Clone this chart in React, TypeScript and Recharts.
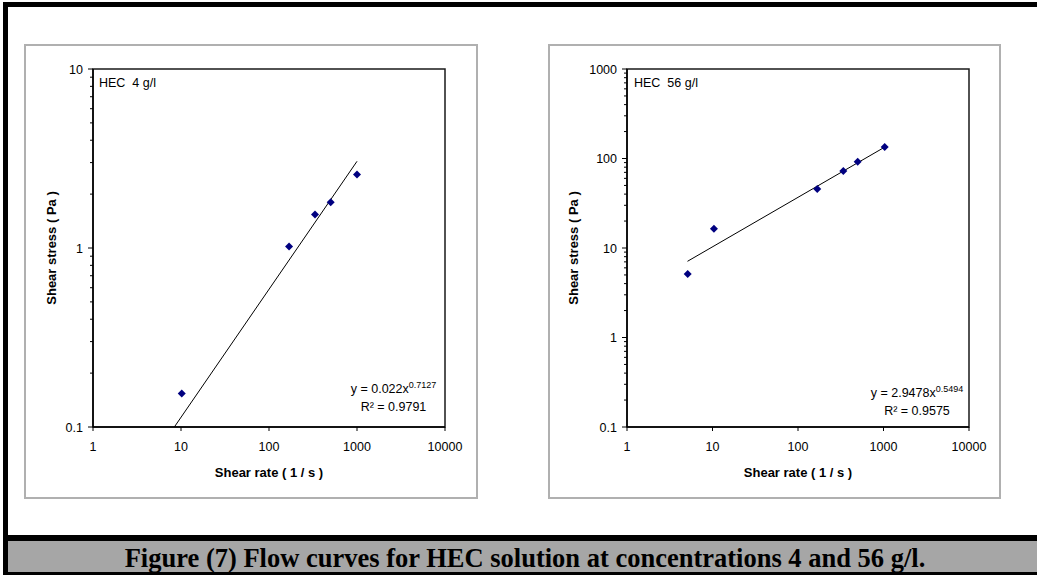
import React from 'react';
import { ScatterChart, Scatter, XAxis, YAxis, ReferenceArea } from 'recharts';

// ---- Data ----
const shearRate4 = [10.2, 169, 333, 502, 1000];
const shearStress4 = [0.154, 1.02, 1.54, 1.8, 2.57];
const trendRate4 = [8.4, 1000];
const trendStress4 = [0.1, 3.05];

const shearRate56 = [5.13, 10.4, 168, 339, 499, 1033];
const shearStress56 = [5.12, 16.4, 45.6, 72.5, 92, 134];
const trendRate56 = [5.1, 1033];
const trendStress56 = [7.1, 134];

const xTicks = [1, 10, 100, 1000, 10000];
const yMajor4 = [0.1, 1, 10];
const yMajor56 = [0.1, 1, 10, 100, 1000];
const minorMultipliers = [2, 3, 4, 5, 6, 7, 8, 9];

const xTitle = 'Shear rate ( 1 / s )';
const yTitle = 'Shear stress ( Pa )';
const caption = 'Figure (7) Flow curves for HEC solution at concentrations 4 and 56 g/l.';

const SANS = '"Liberation Sans", Arial, sans-serif';
const SERIF = '"Liberation Serif", "Times New Roman", serif';

const toPoints = (xs: number[], ys: number[]) => xs.map((x, i) => ({ x, y: ys[i] }));

const withMinor = (majors: number[]) => {
  const out: number[] = [];
  majors.forEach((m, i) => {
    out.push(m);
    if (i < majors.length - 1) minorMultipliers.forEach((k) => out.push(m * k));
  });
  return out;
};

const Diamond = (props: any) => {
  const { cx, cy } = props;
  if (cx == null || cy == null) return <g />;
  const r = 4;
  return (
    <polygon
      points={`${cx},${cy - r} ${cx + r},${cy} ${cx},${cy + r} ${cx - r},${cy}`}
      fill="#000080"
    />
  );
};

const NoShape = () => <g />;

const fmt = (v: number) => {
  if (v >= 1) return String(Math.round(v));
  return String(Math.round(v * 10) / 10);
};

const makeYTick = (majors: number[]) => (props: any) => {
  const { x, y, payload } = props;
  const v = payload.value;
  const isMajor = majors.some((m) => Math.abs(m - v) / m < 1e-6);
  return (
    <g>
      <line x1={x - (isMajor ? 5 : 3)} x2={x} y1={y} y2={y} stroke="#000" strokeWidth={1} />
      {isMajor && (
        <text x={x - 10} y={y + 4.5} textAnchor="end" fontSize={12.5} fontFamily={SANS} fill="#000">
          {fmt(v)}
        </text>
      )}
    </g>
  );
};

const XTick = (props: any) => {
  const { x, y, payload } = props;
  return (
    <g>
      <line x1={x} x2={x} y1={y} y2={y + 4} stroke="#000" strokeWidth={1} />
      <text x={x} y={y + 23.5} textAnchor="middle" fontSize={12.5} fontFamily={SANS} fill="#000">
        {fmt(payload.value)}
      </text>
    </g>
  );
};

type Cfg = {
  name: string;
  coef: string;
  exp: string;
  r2: string;
  nameDx: number;
  eqRight: number;
  eqBottom: number;
  r2Bottom: number;
  yTitleDx: number;
};

const makePlotLabel = (cfg: Cfg) => (props: any) => {
  const vb = props.viewBox || {};
  const { x, y, width, height } = vb;
  if (x == null) return null;
  const eqX = x + width - cfg.eqRight;
  const ycx = x + cfg.yTitleDx;
  const ycy = y + height / 2;
  return (
    <g fontFamily={SANS} fill="#000">
      <text x={x + cfg.nameDx} y={y + 17.5} fontSize={12.5} style={{ whiteSpace: 'pre' }}>
        {cfg.name}
      </text>
      <text x={eqX} y={y + height - cfg.eqBottom} fontSize={12.5} textAnchor="middle">
        {`y = ${cfg.coef}x`}
        <tspan dy={-5} fontSize={9}>
          {cfg.exp}
        </tspan>
      </text>
      <text x={eqX} y={y + height - cfg.r2Bottom} fontSize={12.5} textAnchor="middle">
        {`R² = ${cfg.r2}`}
      </text>
      <text
        x={x + width / 2}
        y={y + height + 50}
        fontSize={13}
        fontWeight="bold"
        textAnchor="middle"
      >
        {xTitle}
      </text>
      <text
        x={ycx}
        y={ycy}
        fontSize={13}
        fontWeight="bold"
        textAnchor="middle"
        transform={`rotate(-90, ${ycx}, ${ycy})`}
      >
        {yTitle}
      </text>
    </g>
  );
};

type PanelProps = {
  left: number;
  top: number;
  width: number;
  height: number;
  plotLeft: number;
  plotRight: number;
  points: { x: number; y: number }[];
  trend: { x: number; y: number }[];
  yMajor: number[];
  cfg: Cfg;
};

const Panel = (p: PanelProps) => {
  const yAxisWidth = 40;
  const xAxisHeight = 30;
  const yDomain = [p.yMajor[0], p.yMajor[p.yMajor.length - 1]];
  return (
    <>
      <div
        style={{
          position: 'absolute',
          left: p.left,
          top: p.top,
          width: p.width,
          height: p.height,
          border: '2px solid #b0b0b0',
          boxSizing: 'border-box',
          background: '#fff',
        }}
      />
      <div style={{ position: 'absolute', left: p.left, top: p.top }}>
        <ScatterChart
          width={p.width}
          height={p.height}
          margin={{ top: 25, right: p.plotRight, bottom: 72 - xAxisHeight, left: p.plotLeft - yAxisWidth }}
        >
          <XAxis
            type="number"
            dataKey="x"
            scale="log"
            domain={[1, 10000]}
            ticks={xTicks}
            interval={0}
            allowDataOverflow
            height={xAxisHeight}
            tickSize={0}
            tickMargin={0}
            tickLine={false}
            axisLine={{ stroke: '#000', strokeWidth: 1.5 }}
            tick={<XTick />}
          />
          <YAxis
            type="number"
            dataKey="y"
            scale="log"
            domain={yDomain}
            ticks={withMinor(p.yMajor)}
            interval={0}
            allowDataOverflow
            width={yAxisWidth}
            tickSize={0}
            tickMargin={0}
            tickLine={false}
            axisLine={{ stroke: '#000', strokeWidth: 1.5 }}
            tick={makeYTick(p.yMajor)}
          />
          <ReferenceArea
            x1={1}
            x2={10000}
            y1={yDomain[0]}
            y2={yDomain[1]}
            fill="none"
            fillOpacity={0}
            stroke="#1a1a1a"
            strokeWidth={1.5}
            ifOverflow="visible"
            label={makePlotLabel(p.cfg)}
          />
          <Scatter
            data={p.trend}
            line={{ stroke: '#000', strokeWidth: 1 }}
            shape={NoShape}
            isAnimationActive={false}
            legendType="none"
          />
          <Scatter data={p.points} shape={Diamond} fill="#000080" isAnimationActive={false} />
        </ScatterChart>
      </div>
    </>
  );
};

export default function App() {
  return (
    <div
      style={{
        position: 'absolute',
        left: 0,
        top: 0,
        width: 1037,
        height: 575,
        background: '#fff',
        overflow: 'hidden',
      }}
    >
      {/* frame */}
      <div style={{ position: 'absolute', left: 3, top: 2, width: 1034, height: 5, background: '#000' }} />
      <div style={{ position: 'absolute', left: 3, top: 2, width: 5, height: 573, background: '#000' }} />
      <div style={{ position: 'absolute', left: 3, top: 535, width: 1034, height: 6, background: '#000' }} />
      <div style={{ position: 'absolute', left: 8, top: 541, width: 1029, height: 31, background: '#a6a6a6' }} />
      <div style={{ position: 'absolute', left: 3, top: 572, width: 1034, height: 3, background: '#000' }} />
      <svg style={{ position: 'absolute', left: 8, top: 541 }} width={1029} height={31}>
        <text
          x={517}
          y={25.5}
          textAnchor="middle"
          fontFamily={SERIF}
          fontWeight="bold"
          fontSize={26.5}
          fill="#000"
        >
          {caption}
        </text>
      </svg>

      <Panel
        left={24}
        top={44}
        width={454}
        height={455}
        plotLeft={69}
        plotRight={33}
        points={toPoints(shearRate4, shearStress4)}
        trend={toPoints(trendRate4, trendStress4)}
        yMajor={yMajor4}
        cfg={{
          name: 'HEC  4 g/l',
          coef: '0.022',
          exp: '0.7127',
          r2: '0.9791',
          nameDx: 6,
          eqRight: 51.5,
          eqBottom: 34.5,
          r2Bottom: 16.5,
          yTitleDx: -37,
        }}
      />
      <Panel
        left={548}
        top={44}
        width={453}
        height={455}
        plotLeft={79}
        plotRight={32}
        points={toPoints(shearRate56, shearStress56)}
        trend={toPoints(trendRate56, trendStress56)}
        yMajor={yMajor56}
        cfg={{
          name: 'HEC  56 g/l',
          coef: '2.9478',
          exp: '0.5494',
          r2: '0.9575',
          nameDx: 7,
          eqRight: 52,
          eqBottom: 30,
          r2Bottom: 12,
          yTitleDx: -49,
        }}
      />
    </div>
  );
}
